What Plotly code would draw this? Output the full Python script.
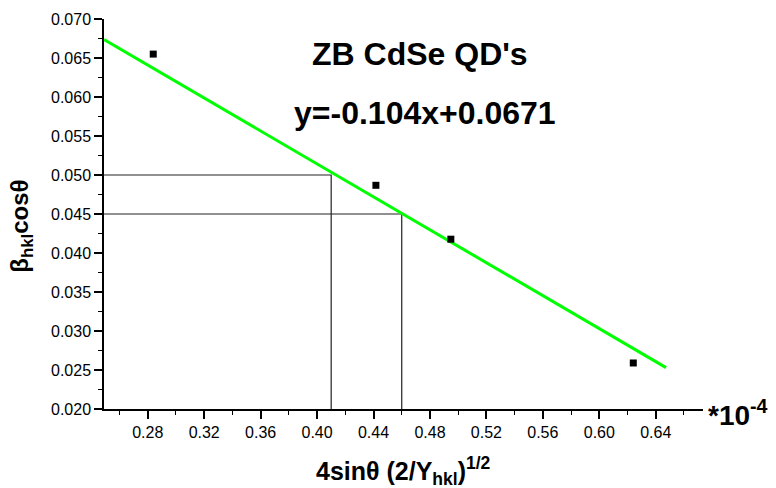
import plotly.graph_objects as go

# Data points (x in units of 1e-4)
pts_x = [0.2839, 0.4417, 0.4948, 0.6241]
pts_y = [0.0655, 0.04868, 0.04177, 0.0259]

# Linear fit line endpoints
fit_x = [0.249, 0.6473]
fit_y = [0.06736, 0.02531]

# Guide lines
guide1_x = [0.249, 0.41, 0.41]
guide1_y = [0.050, 0.050, 0.020]
guide2_x = [0.249, 0.46, 0.46]
guide2_y = [0.045, 0.045, 0.020]

x_range = [0.249, 0.6735]
y_range = [0.020, 0.070]

FONT = "Liberation Sans, Arial, sans-serif"

fig = go.Figure()
for gx, gy in [(guide1_x, guide1_y), (guide2_x, guide2_y)]:
    fig.add_trace(go.Scatter(x=gx, y=gy, mode="lines",
                             line=dict(color="#222222", width=1.2),
                             showlegend=False, hoverinfo="skip"))
fig.add_trace(go.Scatter(x=fit_x, y=fit_y, mode="lines",
                         line=dict(color="#00ff00", width=3), showlegend=False))
fig.add_trace(go.Scatter(x=pts_x, y=pts_y, mode="markers",
                         marker=dict(symbol="square", size=7, color="black"),
                         showlegend=False))

fig.update_layout(
    width=776, height=488,
    margin=dict(l=104, r=73, t=11, b=79),
    paper_bgcolor="white", plot_bgcolor="white",
    font=dict(family=FONT, color="black"),
    xaxis=dict(range=x_range, showgrid=False, zeroline=False,
               showline=True, linecolor="black", linewidth=1.5,
               ticks="outside", ticklen=8, tickwidth=1.5, tickcolor="black",
               tick0=0.28, dtick=0.04, tickformat=".2f",
               tickfont=dict(size=16, family=FONT),
               minor=dict(ticks="outside", ticklen=4, tickwidth=1.2,
                          tickcolor="black", tick0=0.26, dtick=0.02)),
    yaxis=dict(range=y_range, showgrid=False, zeroline=False,
               showline=True, linecolor="black", linewidth=1.5,
               ticks="outside", ticklen=8, tickwidth=1.5, tickcolor="black",
               tick0=0.020, dtick=0.005, tickformat=".3f",
               tickfont=dict(size=16, family=FONT),
               minor=dict(ticks="outside", ticklen=4, tickwidth=1.2,
                          tickcolor="black", dtick=0.0025)),
    annotations=[
        dict(text="<b>ZB CdSe QD's</b>", x=0.473, y=0.0655, xref="x", yref="y",
             showarrow=False, font=dict(size=32, family=FONT), xanchor="center", yanchor="middle"),
        dict(text="<b>y=-0.104x+0.0671</b>", x=0.4766, y=0.0580, xref="x", yref="y",
             showarrow=False, font=dict(size=32, family=FONT), xanchor="center", yanchor="middle"),
        dict(text="<b>*10<sup>-4</sup></b>", x=1.005, y=-0.01, xref="paper", yref="paper",
             showarrow=False, font=dict(size=28, family=FONT), xanchor="left", yanchor="middle"),
        dict(text="<b>4sinθ (2/Y<sub>hkl</sub>)<sup>1/2</sup></b>", x=0.5, y=-0.16,
             xref="paper", yref="paper", showarrow=False,
             font=dict(size=25, family=FONT), xanchor="center", yanchor="middle"),
        dict(text="<b>β<sub>hkl</sub>cosθ</b>", x=-0.137, y=0.47, xref="paper", yref="paper",
             showarrow=False, textangle=-90, font=dict(size=24, family=FONT),
             xanchor="center", yanchor="middle"),
    ],
)

fig.write_html("out.html")
